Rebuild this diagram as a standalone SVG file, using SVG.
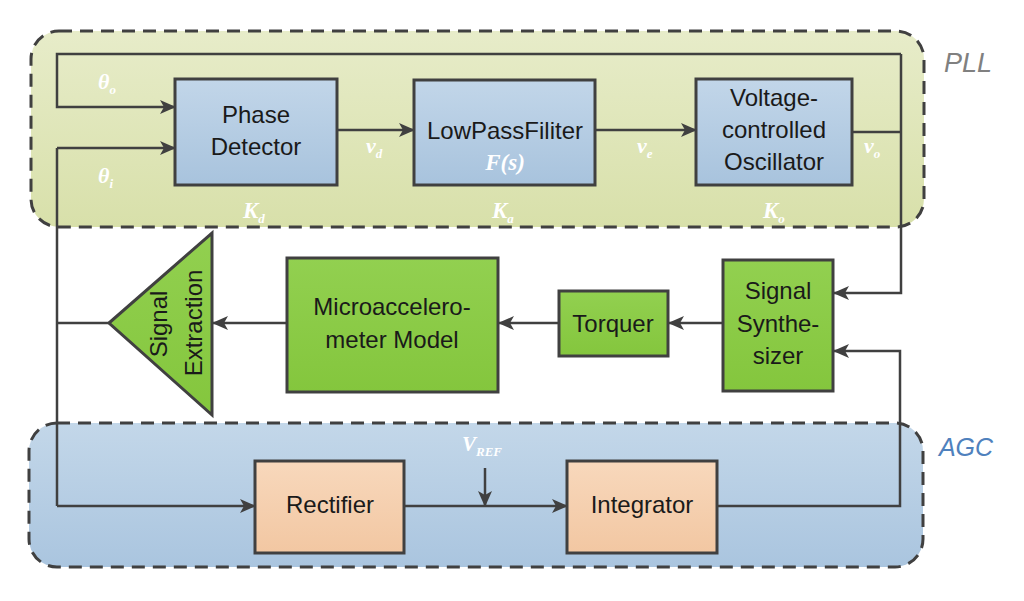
<svg xmlns="http://www.w3.org/2000/svg" width="1024" height="601" viewBox="0 0 1024 601">
<style>
.reg{stroke:#404040;stroke-width:3;stroke-dasharray:13 8;}
.box{stroke:#404040;stroke-width:3;}
.lbl{font-family:"Liberation Sans",Arial,sans-serif;font-size:24px;fill:#1a1a1a;text-anchor:middle;}
.math{font-family:"Liberation Serif","Times New Roman",serif;font-style:italic;font-weight:bold;fill:#ffffff;}
.sub{font-size:13px;}
.wire{fill:none;stroke:#404040;stroke-width:2.5;}
.arr{marker-end:url(#ah);}
</style>
<defs>
<linearGradient id="gPLL" x1="0" y1="0" x2="0" y2="1"><stop offset="0" stop-color="#e7ecc9"/><stop offset="1" stop-color="#d8e0aa"/></linearGradient>
<linearGradient id="gAGC" x1="0" y1="0" x2="0" y2="1"><stop offset="0" stop-color="#c3d7e9"/><stop offset="1" stop-color="#aac5df"/></linearGradient>
<linearGradient id="gBlue" x1="0" y1="0" x2="0" y2="1"><stop offset="0" stop-color="#c2d6e9"/><stop offset="1" stop-color="#a8c3dd"/></linearGradient>
<linearGradient id="gGreen" x1="0" y1="0" x2="0" y2="1"><stop offset="0" stop-color="#92d050"/><stop offset="1" stop-color="#84c63d"/></linearGradient>
<linearGradient id="gOrange" x1="0" y1="0" x2="0" y2="1"><stop offset="0" stop-color="#f8d8bc"/><stop offset="1" stop-color="#f2c7a2"/></linearGradient>
<marker id="ah" markerUnits="userSpaceOnUse" markerWidth="16" markerHeight="14" refX="15" refY="7" orient="auto">
<path d="M0,0 L16,7 L0,14 L4,7 z" fill="#404040"/>
</marker>
</defs>
<rect width="1024" height="601" fill="#ffffff"/>

<g id="PLL">
<rect x="31" y="31" width="893" height="196" rx="28" fill="url(#gPLL)" class="reg"/>
<text x="968" y="72" font-family="Liberation Sans,Arial,sans-serif" font-style="italic" font-size="27" fill="#808080" text-anchor="middle">PLL</text>
</g>
<g id="AGC">
<rect x="29" y="423" width="894" height="144" rx="28" fill="url(#gAGC)" class="reg"/>
<text x="966" y="456" font-family="Liberation Sans,Arial,sans-serif" font-style="italic" font-size="25" fill="#4f81bd" text-anchor="middle">AGC</text>
</g>

<g id="connectors">
<polyline class="wire" points="852,132 901,132"/>
<polyline class="wire arr" points="901,54 901,293 834,293"/>
<polyline class="wire arr" points="901,54 57,54 57,107 175,107"/>
<polyline class="wire" points="57,506 57,148"/>
<polyline class="wire arr" points="57,148 175,148"/>
<polyline class="wire arr" points="57,506 255,506"/>
<polyline class="wire arr" points="337,130 414,130"/>
<polyline class="wire arr" points="595,130 696,130"/>
<polyline class="wire arr" points="723,323 669,323"/>
<polyline class="wire arr" points="559,323 499,323"/>
<polyline class="wire arr" points="287,323 213,323"/>
<polyline class="wire" points="57,323 109,323"/>
<polyline class="wire arr" points="404,506 567,506"/>
<polyline class="wire arr" points="485,468 485,506"/>
<polyline class="wire arr" points="717,506 900,506 900,351 834,351"/>
</g>

<g id="phase-detector">
<rect x="175" y="79" width="162" height="106" fill="url(#gBlue)" class="box"/>
<text class="lbl" x="256" y="123">Phase</text>
<text class="lbl" x="256" y="155">Detector</text>
</g>
<g id="low-pass-filter">
<rect x="414" y="80" width="181" height="105" fill="url(#gBlue)" class="box"/>
<text class="lbl" x="505" y="139">LowPassFiliter</text>
<text class="math" x="505" y="170" font-size="23" text-anchor="middle">F(s)</text>
</g>
<g id="vco">
<rect x="696" y="79" width="156" height="106" fill="url(#gBlue)" class="box"/>
<text class="lbl" x="774" y="106">Voltage-</text>
<text class="lbl" x="774" y="138">controlled</text>
<text class="lbl" x="774" y="170">Oscillator</text>
</g>
<g id="signal-synthesizer">
<rect x="723" y="260" width="110" height="131" fill="url(#gGreen)" class="box"/>
<text class="lbl" x="778" y="299">Signal</text>
<text class="lbl" x="778" y="332">Synthe-</text>
<text class="lbl" x="778" y="364">sizer</text>
</g>
<g id="torquer">
<rect x="559" y="291" width="109" height="65" fill="url(#gGreen)" class="box"/>
<text class="lbl" x="613" y="332">Torquer</text>
</g>
<g id="microaccelerometer-model">
<rect x="287" y="258" width="211" height="134" fill="url(#gGreen)" class="box"/>
<text class="lbl" x="392" y="315">Microaccelero-</text>
<text class="lbl" x="392" y="348">meter Model</text>
</g>
<g id="signal-extraction">
<polygon points="109,323 212,233 212,415" fill="url(#gGreen)" class="box"/>
<text class="lbl" transform="translate(167,324) rotate(-90)">Signal</text>
<text class="lbl" transform="translate(202,323) rotate(-90)">Extraction</text>
</g>
<g id="rectifier">
<rect x="255" y="461" width="149" height="92" fill="url(#gOrange)" class="box"/>
<text class="lbl" x="330" y="513">Rectifier</text>
</g>
<g id="integrator">
<rect x="567" y="461" width="150" height="92" fill="url(#gOrange)" class="box"/>
<text class="lbl" x="642" y="513">Integrator</text>
</g>

<g id="labels">
<text class="math" x="98" y="89" font-size="22">θ<tspan class="sub" dy="5">o</tspan></text>
<text class="math" x="98" y="183" font-size="22">θ<tspan class="sub" dy="5">i</tspan></text>
<text class="math" x="366" y="153" font-size="22">v<tspan class="sub" dy="5">d</tspan></text>
<text class="math" x="637" y="153" font-size="22">v<tspan class="sub" dy="5">e</tspan></text>
<text class="math" x="864" y="153" font-size="22">v<tspan class="sub" dy="5">o</tspan></text>
<text class="math" x="243" y="218" font-size="23">K<tspan class="sub" dy="5">d</tspan></text>
<text class="math" x="492" y="218" font-size="23">K<tspan class="sub" dy="5">a</tspan></text>
<text class="math" x="763" y="218" font-size="23">K<tspan class="sub" dy="5">o</tspan></text>
<text class="math" x="462" y="451" font-size="21">V<tspan class="sub" dy="5">REF</tspan></text>
</g>
</svg>
